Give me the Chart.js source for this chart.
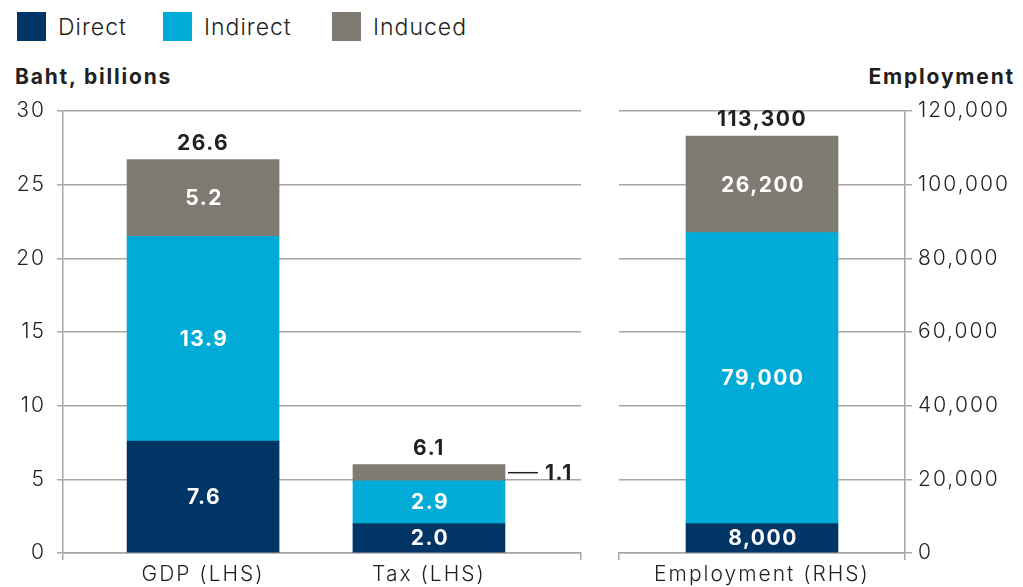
<!DOCTYPE html>
<html>
<head>
<meta charset="utf-8">
<script src="https://cdn.jsdelivr.net/npm/chart.js@4.4.1/dist/chart.umd.min.js"></script>
<style>
  body { margin: 0; background: #fff; }
  #wrap { position: relative; width: 1023px; height: 587px; overflow: hidden; font-family: Inter, Lato, sans-serif; color: #231f20; }
  #legend { position: absolute; left: 17px; top: 12px; display: flex; align-items: center; }
  .item { display: flex; align-items: center; font-size: 23px; font-weight: 300; letter-spacing: 1px; }
  .item:nth-child(1) { width: 146px; }
  .item:nth-child(2) { width: 169px; }
  .box { width: 29px; height: 29px; margin-right: 12px; }
  .axtitle { position: absolute; top: 64px; font-size: 21px; font-weight: 700; letter-spacing: 1.8px; }
  canvas { position: absolute; top: 0; }
</style>
</head>
<body>
<div id="wrap">
  <div id="legend"></div>
  <div class="axtitle" style="left:15px">Baht, billions</div>
  <div class="axtitle" style="right:8px">Employment</div>
  <canvas id="left" width="600" height="587" style="left:0"></canvas>
  <canvas id="right" width="423" height="587" style="left:600px"></canvas>
</div>
<script>
const FONT = "Inter, Lato, sans-serif";
const DARK = "#231f20";
const GRID = "#aaa59f";

const series = ["Direct", "Indirect", "Induced"];
const colors = ["#003566", "#00acd7", "#7f7b73"];

// left chart, Baht billions
const bahtCategories = ["GDP (LHS)", "Tax (LHS)"];
const bahtDirect = [7.6, 2.0];
const bahtIndirect = [13.9, 2.9];
const bahtInduced = [5.2, 1.1];
const bahtTotals = [26.6, 6.1];

// right chart, employment
const empCategories = ["Employment (RHS)"];
const empDirect = [8000];
const empIndirect = [79000];
const empInduced = [26200];
const empTotals = [113300];

// legend
document.getElementById("legend").innerHTML = series.map((s, i) =>
  `<div class="item"><div class="box" style="background:${colors[i]}"></div>${s}</div>`
).join("");

// the original font is wider than Inter, so space the axis text out a bit
Chart.register({
  id: "spacing",
  beforeLayout(c) { c.ctx.letterSpacing = "2px"; },
  beforeDraw(c) { c.ctx.letterSpacing = "2px"; }
});

function barLabels(fmt, totals) {
  return {
    id: "barLabels",
    afterDatasetsDraw(chart) {
      const ctx = chart.ctx;
      ctx.save();
      ctx.letterSpacing = "1.5px";
      ctx.font = "700 21px " + FONT;
      chart.data.datasets.forEach((ds, di) => {
        chart.getDatasetMeta(di).data.forEach((bar, i) => {
          const d = ds.data[i];
          const v = typeof d === "object" ? d.y : d;
          const h = Math.abs(bar.base - bar.y);
          const cy = (bar.y + bar.base) / 2;
          ctx.textBaseline = "middle";
          if (h > 22) {
            ctx.fillStyle = "#fff";
            ctx.textAlign = "center";
            ctx.fillText(fmt(v), bar.x + 1, cy + 1);
          } else {
            const x0 = bar.x + bar.width / 2 + 3;
            ctx.strokeStyle = DARK;
            ctx.lineWidth = 1.5;
            ctx.beginPath();
            ctx.moveTo(x0, cy);
            ctx.lineTo(x0 + 30, cy);
            ctx.stroke();
            ctx.fillStyle = DARK;
            ctx.textAlign = "left";
            ctx.fillText(fmt(v), x0 + 37, cy + 1);
          }
        });
      });
      const last = chart.getDatasetMeta(chart.data.datasets.length - 1).data;
      last.forEach((bar, i) => {
        ctx.fillStyle = DARK;
        ctx.textAlign = "center";
        ctx.textBaseline = "alphabetic";
        ctx.fillText(fmt(totals[i]), bar.x, bar.y - 10);
      });
      ctx.restore();
    }
  };
}

const tickFont = { family: FONT, size: 21, weight: 300 };

// left chart
new Chart(document.getElementById("left"), {
  type: "bar",
  data: {
    datasets: [bahtDirect, bahtIndirect, bahtInduced].map((vals, k) => ({
      label: series[k],
      data: vals.map((v, i) => ({ x: i, y: v })),
      backgroundColor: colors[k],
      barThickness: 152
    }))
  },
  options: {
    responsive: false,
    animation: false,
    devicePixelRatio: 1,
    layout: { padding: { top: 111, right: 19, left: 0, bottom: 0 } },
    plugins: { legend: { display: false }, tooltip: { enabled: false } },
    scales: {
      x: {
        type: "linear",
        stacked: true,
        offset: false,
        min: -0.62,
        max: 1.673,
        afterFit(s) { s.height = 34; },
        afterBuildTicks(s) {
          s.ticks = [{ value: -0.62 }, { value: 0 }, { value: 1 }, { value: 1.673 }];
        },
        ticks: {
          autoSkip: false,
          maxRotation: 0,
          color: DARK,
          font: tickFont,
          padding: 2,
          callback: v => Number.isInteger(v) ? bahtCategories[v] : ""
        },
        grid: {
          offset: false,
          drawOnChartArea: false,
          tickLength: 7,
          lineWidth: 1.5,
          color: c => (c.tick && Number.isInteger(c.tick.value)) ? "transparent" : GRID
        },
        border: { display: true, color: GRID, width: 1.5 }
      },
      y: {
        stacked: true,
        min: 0,
        max: 30,
        afterFit(s) { s.width = 63; },
        ticks: { stepSize: 5, color: DARK, font: tickFont, padding: 11 },
        grid: { color: GRID, lineWidth: 1.5, tickLength: 6 },
        border: { display: true, color: GRID, width: 1.5 }
      }
    }
  },
  plugins: [barLabels(v => v.toFixed(1), bahtTotals)]
});

// right chart
new Chart(document.getElementById("right"), {
  type: "bar",
  data: {
    labels: empCategories,
    datasets: [empDirect, empIndirect, empInduced].map((vals, k) => ({
      label: series[k],
      data: vals,
      backgroundColor: colors[k],
      barThickness: 152
    }))
  },
  options: {
    responsive: false,
    animation: false,
    devicePixelRatio: 1,
    layout: { padding: { top: 111, right: 0, left: 19, bottom: 0 } },
    plugins: { legend: { display: false }, tooltip: { enabled: false } },
    scales: {
      x: {
        stacked: true,
        afterFit(s) { s.height = 34; },
        ticks: { color: DARK, font: tickFont, padding: 2 },
        grid: { drawOnChartArea: false, tickLength: 7, lineWidth: 1.5, color: GRID },
        border: { display: true, color: GRID, width: 1.5 }
      },
      y: {
        position: "right",
        stacked: true,
        min: 0,
        max: 120000,
        afterFit(s) { s.width = 118; },
        ticks: {
          stepSize: 20000,
          color: DARK,
          font: tickFont,
          padding: 6,
          callback: v => v.toLocaleString("en-US")
        },
        grid: { color: GRID, lineWidth: 1.5, tickLength: 7 },
        border: { display: true, color: GRID, width: 1.5 }
      }
    }
  },
  plugins: [barLabels(v => v.toLocaleString("en-US"), empTotals)]
});
</script>
</body>
</html>
